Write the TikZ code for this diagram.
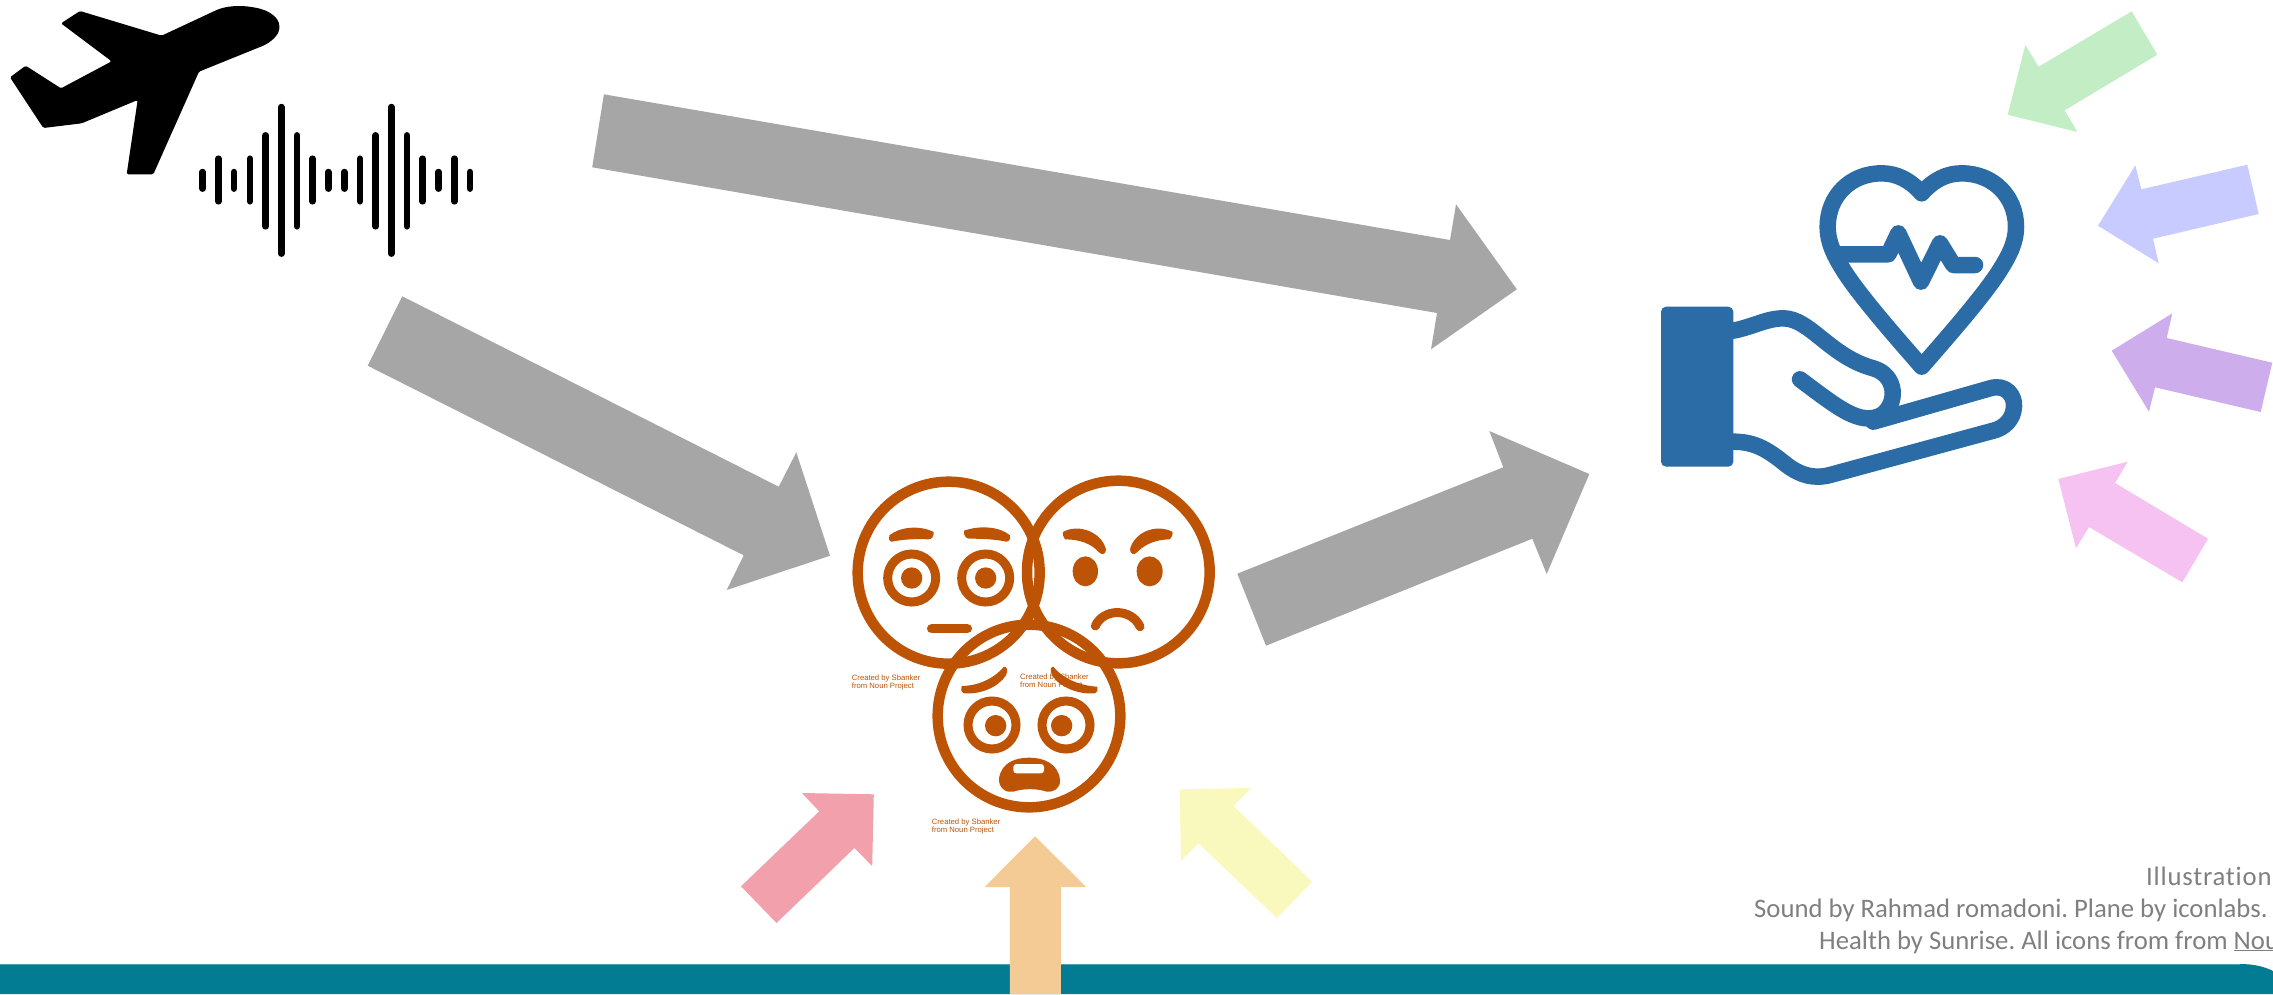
\documentclass[tikz,border=0pt]{standalone}
\usepackage{fontspec}
\setmainfont[Ligatures=NoCommon]{Carlito}
\newfontfamily\tinyfont{Liberation Sans}
\definecolor{arrowgray}{HTML}{A6A6A6}
\definecolor{rosearrow}{HTML}{F2A0AB}
\definecolor{orangearrow}{HTML}{F5CB95}
\definecolor{yellowarrow}{HTML}{FAF9BD}
\definecolor{greenarrow}{HTML}{C2EDC5}
\definecolor{bluearrow}{HTML}{C8CBFF}
\definecolor{purplearrow}{HTML}{CDADEB}
\definecolor{lilacarrow}{HTML}{F5C2F2}
\definecolor{facebrown}{HTML}{BD5304}
\definecolor{handblue}{HTML}{2C6CA6}
\definecolor{band}{HTML}{017C92}
\definecolor{bandedge}{HTML}{4FA3B3}
\definecolor{captiongray}{HTML}{7F7F7F}
\tikzset{
  facering/.style={draw=facebrown,line width=10.5pt},
  eyering/.style={draw=facebrown,line width=9pt},
  facefill/.style={fill=facebrown,draw=none},
  facestroke/.style={draw=facebrown,line width=9pt,line cap=round},
  handline/.style={draw=handblue,line width=16.5pt,line cap=round,line join=round},
  soundbar/.style={draw=black,line width=6.5pt,line cap=round},
  caption/.style={text=captiongray,font=\frenchspacing\fontsize{26.7}{30}\selectfont,inner sep=0pt,anchor=base west},
  credit/.style={text=facebrown,font=\tinyfont\fontsize{7.7}{8.6}\selectfont,inner sep=0pt,anchor=north west,align=left},
  zoomA/.style={shift={(0,0)},x=.33333pt,y=-.33333pt},
  zoomB/.style={shift={(820,460)},x=.33333pt,y=-.33333pt},
  zoomC/.style={shift={(1640,140)},x=.33333pt,y=-.33333pt}
}
\begin{document}
\begin{tikzpicture}[x=1pt,y=-1pt]
\useasboundingbox (0,0) rectangle (2273,994);
\begin{scope}
\clip (0,0) rectangle (2273,994);
% band
\fill[band] (0,964) -- (2240,964) .. controls (2255,964) and (2265,967) .. (2273,971) -- (2273,994) -- (0,994) -- cycle;
\draw[bandedge,line width=1pt] (0,964) -- (2240,964);
% grey arrows
\fill[arrowgray] (603.9,94.3) -- (1450,240) -- (1456,204.3) -- (1516.8,289.3) -- (1431,349.3) -- (1437,313) -- (592.2,167.3) -- cycle;
\fill[arrowgray] (402.3,296.3) -- (778.7,486.7) -- (796.3,452.3) -- (830,555.7) -- (726.7,590) -- (743.7,555.3) -- (367.7,365.7) -- cycle;
\fill[arrowgray] (1237.3,573.7) -- (1503.3,467.3) -- (1489.3,431) -- (1589.3,474) -- (1546.7,574) -- (1532.3,538.7) -- (1266,645.7) -- cycle;
% coloured arrows
\fill[rosearrow] (741,886.3) -- (819.2,811.3) -- (801.9,793) -- (873.8,794.3) -- (872.2,866) -- (854.4,848) -- (776.5,923) -- cycle;
\fill[orangearrow] (1035.1,836.3) -- (1086.2,887) -- (1060.8,887) -- (1060.8,994) -- (1009.8,994) -- (1009.8,887) -- (984.5,887) -- cycle;
\fill[yellowarrow] (1179.5,789.3) -- (1251,788) -- (1233.6,806) -- (1312.3,881.7) -- (1276.7,918) -- (1198.5,843.3) -- (1181,861) -- cycle;
\fill[greenarrow] (2131.7,11.3) -- (2157.3,54.7) -- (2064.7,110.3) -- (2077.3,132) -- (2007.7,114.7) -- (2025.3,45) -- (2038.7,66.7) -- cycle;
\fill[bluearrow] (2247.3,164.7) -- (2258.7,214) -- (2153,238.7) -- (2158.7,263.3) -- (2098,225.7) -- (2135.3,165.3) -- (2141.3,189.3) -- cycle;
\fill[purplearrow] (2272.3,362.7) -- (2260.7,412) -- (2155,387.3) -- (2149,411.7) -- (2111.7,350.7) -- (2172.3,313.3) -- (2166.7,338) -- cycle;
\fill[lilacarrow] (2208,538.7) -- (2182.3,582.3) -- (2089,527) -- (2076,548.3) -- (2058.3,479) -- (2127.7,461.7) -- (2115,483) -- cycle;
% plane
\begin{scope}[zoomA]
\fill[black,rounded corners=1.5pt] (485,107) -- (650,30) .. controls (680,18) and (720,15) .. (760,22) .. controls (810,30) and (838,55) .. (838,82) .. controls (838,100) and (820,122) .. (790,137) -- (597,215) -- (460,523) -- (380,523) -- (413,300) -- (245,370) -- (130,384) -- (30,232) -- (77,197) -- (183,265) -- (335,184) -- (183,70) -- (240,33) -- cycle;
% sound
\foreach \bx/\by/\ey in {608/516/566,655/476/604,702/516/566,750/476/604,797/406/679,844/321/761,891/406/679,938/476/604,985/516/566,1033/516/566,1080/476/604,1127/406/679,1174/321/761,1221/406/679,1268/476/604,1316/516/566,1363/476/604,1410/516/566}
  \draw[soundbar] (\bx,\by) -- (\bx,\ey);
\end{scope}
% faces
\begin{scope}[zoomB]
\draw[facering] (386,338) circle[radius=273];
\draw[facering] (895,336) circle[radius=274];
\draw[facering] (627,768) circle[radius=274];
% face one
\fill[facebrown] (208,226) .. controls (240,200) and (300,195) .. (341,216) .. controls (342,230) and (335,238) .. (325,238) .. controls (290,236) and (250,238) .. (215,245) .. controls (207,245) and (205,234) .. (208,226) -- cycle;
\fill[facebrown] (570,226) .. controls (540,200) and (480,195) .. (432,212) .. controls (430,226) and (438,236) .. (448,236) .. controls (490,236) and (525,238) .. (560,245) .. controls (568,245) and (573,234) .. (570,226) -- cycle;
\draw[eyering] (275,354) circle[radius=72];
\draw[eyering] (497,354) circle[radius=72];
\fill[facebrown] (275,354) circle[radius=32];
\fill[facebrown] (497,354) circle[radius=32];
\draw[facebrown,line width=9.5pt,line cap=round] (335,506) -- (442,506);
% face two
\fill[facebrown] (730,215) .. controls (780,190) and (845,218) .. (858,268) .. controls (858,284) and (845,286) .. (836,276) .. controls (815,252) and (780,238) .. (735,238) .. controls (729,232) and (727,220) .. (730,215) -- cycle;
\fill[facebrown] (1057,215) .. controls (1005,190) and (942,218) .. (930,268) .. controls (930,284) and (944,286) .. (952,276) .. controls (975,252) and (1010,238) .. (1050,238) .. controls (1057,232) and (1059,220) .. (1057,215) -- cycle;
\fill[facebrown] (796,334) ellipse[x radius=38,y radius=45];
\fill[facebrown] (989,334) ellipse[x radius=39,y radius=45];
\draw[facestroke] (826,498) .. controls (850,444) and (935,444) .. (960,500);
% face three
\fill[facebrown] (425,678) .. controls (470,678) and (520,658) .. (552,620) .. controls (562,620) and (564,632) .. (558,646) .. controls (535,682) and (480,704) .. (432,700) .. controls (423,696) and (421,685) .. (425,678) -- cycle;
\fill[facebrown] (832,680) .. controls (785,678) and (730,658) .. (700,620) .. controls (691,620) and (690,632) .. (696,646) .. controls (720,682) and (775,704) .. (824,700) .. controls (833,696) and (835,687) .. (832,680) -- cycle;
\draw[eyering] (516,795) circle[radius=72];
\draw[eyering] (738,795) circle[radius=72];
\fill[facebrown] (527,797) circle[radius=32];
\fill[facebrown] (725,797) circle[radius=32];
\fill[facebrown] (537,955) .. controls (545,905) and (590,893) .. (628,893) .. controls (670,893) and (715,910) .. (720,960) .. controls (722,985) and (700,998) .. (680,995) .. controls (650,985) and (610,985) .. (580,995) .. controls (560,1000) and (535,985) .. (537,955) -- cycle;
\fill[white,rounded corners=3pt] (580,912) rectangle (672,940);
% credits
\node[credit] (creditone) at (95,643) {Created by Sbanker\\from Noun Project};
\node[credit] (credittwo) at (600,640) {Created by Sbanker\\from Noun Project};
\node[credit] (creditthree) at (335,1075) {Created by Sbanker\\from Noun Project};
\end{scope}
% hand and heart
\begin{scope}[zoomC]
\draw[handline] (845,160) .. controls (810,120) and (770,100) .. (725,100) .. controls (630,100) and (563,170) .. (563,260) .. controls (563,310) and (585,350) .. (610,390) .. controls (660,470) and (780,605) .. (845,680) .. controls (910,605) and (1030,470) .. (1080,390) .. controls (1105,350) and (1128,310) .. (1128,260) .. controls (1128,170) and (1060,100) .. (965,100) .. controls (920,100) and (880,120) .. (845,160) -- cycle;
\draw[handline] (600,343) -- (745,343) -- (775,280) -- (843,425) -- (900,310) -- (940,375) -- (1005,375);
\fill[handblue,rounded corners=5pt] (63,500) rectangle (280,980);
\draw[handline] (280,572) .. controls (340,560) and (380,535) .. (430,535) .. controls (510,535) and (570,650) .. (700,685) .. controls (770,705) and (775,790) .. (725,825) .. controls (660,860) and (590,800) .. (480,718);
\draw[handline] (700,845) -- (1050,745) .. controls (1100,730) and (1125,770) .. (1122,800) .. controls (1120,840) and (1090,865) .. (1060,872) -- (570,1005) .. controls (520,1018) and (480,1005) .. (440,975) .. controls (390,935) and (350,905) .. (280,905);
\end{scope}
% caption
\node[caption] (capone) at (2146,885) {\addfontfeature{LetterSpace=3}Illustration};
\node[caption] (captwo) at (1754,917) {Sound by Rahmad romadoni. Plane by iconlabs.};
\node[caption] (capthree) at (1819,949) {Health by Sunrise. All icons from from \underline{Nou}};
\end{scope}
\end{tikzpicture}
\end{document}
